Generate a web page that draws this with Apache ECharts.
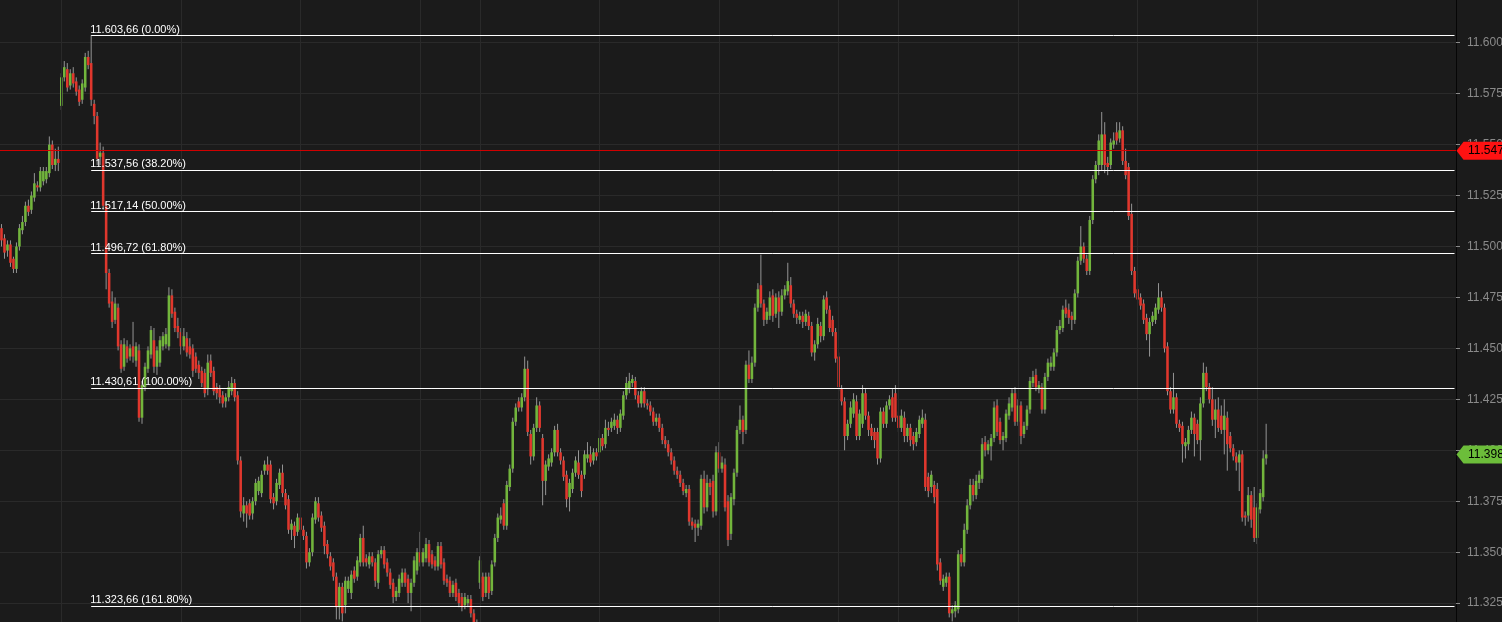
<!DOCTYPE html>
<html>
<head>
<meta charset="utf-8">
<script src="https://cdn.jsdelivr.net/npm/echarts@6/dist/echarts.min.js"></script>
<style>
html,body{margin:0;padding:0;background:#1b1b1b;}
#chart{width:1502px;height:622px;}
</style>
</head>
<body>
<div id="chart"></div>
<script>
// ---- DATA: candles as [open, close, low, high], grouped by trading session ----
const session1 = [
[11.509,11.503,11.500,11.511],[11.504,11.497,11.494,11.506],[11.498,11.501,11.495,11.503],[11.501,11.492,11.490,11.503],
[11.494,11.489,11.487,11.495],[11.489,11.500,11.487,11.502],[11.500,11.509,11.498,11.511],[11.508,11.512,11.506,11.515],
[11.512,11.520,11.510,11.522],[11.520,11.517,11.515,11.523],[11.518,11.525,11.516,11.527],[11.524,11.531,11.522,11.536],
[11.530,11.529,11.527,11.532],[11.529,11.537,11.527,11.539],[11.532,11.537,11.530,11.539],[11.533,11.537,11.531,11.539],
[11.536,11.550,11.534,11.554],[11.550,11.540,11.538,11.552],[11.540,11.543,11.537,11.548],[11.543,11.541,11.537,11.549]
];
const session2 = [
[11.569,11.583,11.567,11.585],[11.583,11.588,11.581,11.591],[11.587,11.578,11.576,11.590],[11.579,11.585,11.577,11.587],
[11.585,11.580,11.578,11.588],[11.581,11.576,11.574,11.583],[11.577,11.571,11.569,11.579],[11.572,11.580,11.570,11.582],
[11.578,11.593,11.576,11.595],[11.593,11.589,11.587,11.596],[11.590,11.572,11.569,11.6037],[11.570,11.564,11.560,11.572],
[11.564,11.543,11.540,11.566],[11.544,11.546,11.540,11.551],[11.546,11.520,11.518,11.549],[11.520,11.487,11.479,11.522],
[11.487,11.472,11.470,11.489],[11.473,11.463,11.460,11.478],[11.464,11.472,11.462,11.475],[11.470,11.451,11.449,11.472],
[11.452,11.440,11.438,11.454],[11.441,11.452,11.439,11.455],[11.451,11.445,11.443,11.454],[11.446,11.450,11.444,11.452],
[11.451,11.446,11.443,11.463],[11.444,11.451,11.441,11.453],[11.449,11.416,11.414,11.452],[11.416,11.432,11.413,11.434],
[11.431,11.441,11.429,11.443],[11.440,11.449,11.438,11.451],[11.447,11.459,11.445,11.461],[11.454,11.441,11.438,11.460],
[11.441,11.449,11.437,11.451],[11.443,11.454,11.441,11.456],[11.451,11.456,11.449,11.458],[11.452,11.457,11.450,11.460],
[11.451,11.476,11.449,11.480],[11.476,11.467,11.465,11.479],[11.468,11.460,11.458,11.470],[11.461,11.458,11.455,11.465],
[11.458,11.451,11.447,11.460],[11.451,11.456,11.449,11.460],[11.455,11.448,11.446,11.458],[11.451,11.447,11.445,11.455],
[11.450,11.439,11.436,11.452],[11.446,11.440,11.438,11.448],[11.442,11.438,11.435,11.444],[11.439,11.433,11.431,11.441],
[11.438,11.428,11.426,11.440],[11.430,11.443,11.427,11.447],[11.444,11.438,11.436,11.447],[11.439,11.429,11.427,11.441],
[11.431,11.428,11.425,11.433],[11.430,11.426,11.423,11.432],[11.427,11.423,11.421,11.429],[11.424,11.426,11.421,11.428],
[11.426,11.431,11.424,11.434],[11.429,11.433,11.427,11.436],[11.433,11.426,11.424,11.435],[11.427,11.395,11.393,11.429],
[11.395,11.370,11.367,11.397],[11.369,11.373,11.365,11.377],[11.373,11.369,11.362,11.375],[11.374,11.368,11.366,11.376],
[11.369,11.375,11.366,11.377],[11.375,11.384,11.373,11.386],[11.380,11.385,11.378,11.387],[11.379,11.388,11.377,11.390],
[11.390,11.393,11.388,11.395],[11.393,11.390,11.388,11.397],[11.393,11.376,11.374,11.395],[11.377,11.374,11.371,11.379],
[11.375,11.384,11.373,11.386],[11.383,11.389,11.381,11.391],[11.389,11.379,11.377,11.393],[11.379,11.373,11.371,11.381],
[11.376,11.361,11.359,11.378],[11.361,11.364,11.356,11.366],[11.363,11.358,11.352,11.365],[11.360,11.367,11.358,11.369],
[11.367,11.361,11.359,11.369],[11.361,11.358,11.356,11.363],[11.358,11.345,11.342,11.360],[11.345,11.350,11.343,11.352],
[11.350,11.367,11.348,11.369],[11.366,11.375,11.364,11.377],[11.374,11.367,11.365,11.377],[11.368,11.362,11.360,11.370],
[11.363,11.353,11.349,11.365],[11.354,11.349,11.347,11.356],[11.348,11.343,11.341,11.350],[11.345,11.338,11.336,11.347],
[11.338,11.323,11.317,11.340],[11.323,11.333,11.317,11.335],[11.333,11.320,11.316,11.335],[11.324,11.336,11.320,11.338],
[11.332,11.336,11.330,11.338],[11.330,11.339,11.327,11.341],[11.341,11.337,11.335,11.343],[11.338,11.346,11.336,11.348],
[11.345,11.357,11.343,11.359],[11.357,11.345,11.343,11.363],[11.347,11.345,11.343,11.349],[11.344,11.348,11.342,11.350],
[11.348,11.345,11.343,11.350],[11.345,11.336,11.333,11.347],[11.335,11.349,11.332,11.351],[11.349,11.351,11.347,11.353],
[11.351,11.344,11.342,11.353],[11.345,11.340,11.338,11.347],[11.340,11.334,11.332,11.342],[11.335,11.328,11.325,11.337],
[11.328,11.331,11.326,11.333],[11.330,11.337,11.328,11.339],[11.335,11.340,11.333,11.342],[11.340,11.335,11.333,11.342],
[11.337,11.330,11.325,11.339],[11.330,11.335,11.321,11.337],[11.335,11.346,11.333,11.348],[11.341,11.350,11.339,11.352],
[11.350,11.345,11.343,11.360],[11.345,11.350,11.343,11.352],[11.347,11.354,11.345,11.357],[11.354,11.345,11.343,11.356],
[11.349,11.344,11.342,11.351],[11.346,11.343,11.341,11.348],[11.343,11.353,11.341,11.355],[11.353,11.344,11.342,11.355],
[11.345,11.336,11.334,11.347],[11.337,11.335,11.333,11.339],[11.336,11.330,11.328,11.338],[11.330,11.334,11.328,11.336],
[11.335,11.328,11.326,11.337],[11.330,11.325,11.323,11.332],[11.328,11.323,11.321,11.330],[11.324,11.328,11.322,11.330],
[11.325,11.327,11.323,11.329],[11.327,11.320,11.318,11.329],[11.320,11.313,11.311,11.322],[11.315,11.312,11.310,11.317]
];
const session3 = [
[11.335,11.346,11.332,11.348],[11.338,11.328,11.326,11.340],[11.330,11.338,11.328,11.340],[11.338,11.330,11.327,11.340],
[11.331,11.344,11.329,11.346],[11.345,11.357,11.343,11.359],[11.357,11.367,11.355,11.369],[11.366,11.368,11.364,11.372],
[11.374,11.363,11.361,11.376],[11.363,11.383,11.361,11.385],[11.382,11.391,11.380,11.393],[11.391,11.414,11.389,11.416],
[11.414,11.421,11.412,11.423],[11.424,11.421,11.419,11.426],[11.421,11.426,11.419,11.428],[11.426,11.440,11.424,11.446],
[11.440,11.409,11.407,11.444],[11.408,11.397,11.393,11.410],[11.397,11.411,11.395,11.413],[11.411,11.422,11.409,11.426],
[11.422,11.411,11.409,11.424],[11.406,11.385,11.373,11.408],[11.385,11.393,11.378,11.395],[11.392,11.396,11.390,11.398],
[11.394,11.399,11.392,11.401],[11.399,11.410,11.397,11.412],[11.410,11.399,11.397,11.413],[11.399,11.395,11.393,11.401],
[11.395,11.387,11.385,11.397],[11.388,11.376,11.372,11.390],[11.377,11.384,11.370,11.386],[11.381,11.389,11.379,11.391],
[11.389,11.395,11.387,11.397],[11.394,11.388,11.386,11.400],[11.388,11.380,11.377,11.390],[11.388,11.398,11.386,11.400],
[11.396,11.398,11.394,11.404],[11.398,11.394,11.392,11.402],[11.395,11.399,11.393,11.401],[11.399,11.397,11.395,11.401],
[11.399,11.406,11.397,11.410],[11.406,11.402,11.400,11.408],[11.403,11.411,11.401,11.415],[11.411,11.410,11.407,11.414],
[11.411,11.414,11.409,11.416],[11.412,11.415,11.410,11.418],[11.415,11.411,11.408,11.417],[11.411,11.418,11.409,11.420],
[11.417,11.427,11.415,11.429],[11.427,11.433,11.425,11.436],[11.430,11.434,11.428,11.438],[11.433,11.435,11.431,11.437],
[11.434,11.427,11.425,11.436],[11.427,11.423,11.421,11.429],[11.423,11.429,11.421,11.431],[11.429,11.423,11.421,11.431],
[11.423,11.422,11.420,11.425],[11.422,11.419,11.417,11.424],[11.419,11.414,11.412,11.421],[11.414,11.416,11.412,11.418],
[11.416,11.411,11.409,11.418],[11.411,11.405,11.403,11.413],[11.405,11.403,11.401,11.407],[11.403,11.399,11.397,11.405],
[11.399,11.395,11.393,11.401],[11.395,11.390,11.388,11.397],[11.390,11.388,11.386,11.392],[11.388,11.384,11.382,11.390],
[11.384,11.380,11.378,11.386],[11.379,11.381,11.377,11.383],[11.381,11.365,11.363,11.383],[11.365,11.363,11.361,11.367],
[11.364,11.362,11.355,11.366],[11.362,11.364,11.358,11.366],[11.363,11.386,11.361,11.388],[11.386,11.372,11.369,11.390],
[11.372,11.384,11.370,11.388],[11.384,11.382,11.378,11.386],[11.385,11.370,11.367,11.388],[11.370,11.399,11.368,11.402],
[11.399,11.391,11.389,11.404],[11.391,11.394,11.389,11.397],[11.393,11.372,11.370,11.396],[11.375,11.356,11.353,11.378],
[11.359,11.377,11.356,11.379],[11.376,11.389,11.373,11.391],[11.389,11.410,11.387,11.412],[11.410,11.415,11.408,11.422],
[11.415,11.409,11.403,11.417],[11.410,11.442,11.408,11.444],[11.442,11.435,11.433,11.449],[11.435,11.443,11.433,11.446],
[11.443,11.470,11.441,11.472],[11.470,11.479,11.468,11.482],[11.481,11.472,11.470,11.496],[11.472,11.464,11.461,11.474],
[11.464,11.468,11.462,11.470],[11.466,11.475,11.464,11.478],[11.476,11.466,11.463,11.479],[11.467,11.475,11.465,11.477],
[11.475,11.468,11.460,11.478],[11.468,11.476,11.466,11.479],[11.476,11.479,11.474,11.481],[11.478,11.483,11.476,11.492],
[11.481,11.472,11.470,11.485],[11.472,11.467,11.465,11.474],[11.467,11.465,11.462,11.469],[11.464,11.466,11.462,11.468],
[11.466,11.463,11.460,11.468],[11.463,11.467,11.461,11.469],[11.466,11.461,11.459,11.468],[11.461,11.448,11.446,11.463],
[11.448,11.452,11.444,11.454],[11.452,11.462,11.450,11.465],[11.461,11.456,11.453,11.463],[11.456,11.474,11.454,11.476],
[11.475,11.469,11.467,11.478],[11.469,11.460,11.458,11.471],[11.464,11.458,11.456,11.466],[11.458,11.445,11.443,11.460],
[11.446,11.431,11.429,11.448],[11.430,11.424,11.422,11.432],[11.424,11.407,11.400,11.426],[11.407,11.413,11.405,11.415],
[11.413,11.421,11.411,11.424],[11.418,11.425,11.416,11.428],[11.424,11.407,11.405,11.427],[11.407,11.418,11.405,11.420],
[11.413,11.428,11.411,11.432],[11.428,11.417,11.415,11.430],[11.417,11.410,11.407,11.419],[11.411,11.407,11.405,11.413],
[11.409,11.405,11.401,11.411],[11.409,11.396,11.393,11.411],[11.396,11.419,11.394,11.421],[11.419,11.413,11.411,11.421],
[11.413,11.422,11.411,11.424],[11.422,11.425,11.420,11.427],[11.426,11.416,11.414,11.430],[11.428,11.416,11.414,11.432]
];
const session4 = [
[11.417,11.411,11.409,11.419],[11.411,11.417,11.409,11.420],[11.416,11.407,11.404,11.419],[11.407,11.411,11.404,11.413],
[11.411,11.405,11.402,11.413],[11.407,11.403,11.400,11.409],[11.404,11.409,11.402,11.411],[11.408,11.415,11.406,11.417],
[11.413,11.416,11.411,11.420],[11.415,11.382,11.380,11.418],[11.387,11.380,11.377,11.389],[11.382,11.388,11.379,11.390],
[11.383,11.377,11.374,11.385],[11.381,11.344,11.341,11.384],[11.345,11.336,11.334,11.347],[11.333,11.337,11.331,11.339],
[11.335,11.338,11.333,11.340],[11.338,11.320,11.318,11.340],[11.320,11.322,11.316,11.324],[11.321,11.324,11.318,11.326],
[11.322,11.349,11.320,11.351],[11.349,11.345,11.343,11.352],[11.345,11.361,11.343,11.364],[11.361,11.373,11.359,11.376],
[11.373,11.383,11.371,11.386],[11.383,11.378,11.375,11.386],[11.378,11.385,11.376,11.388],[11.384,11.388,11.381,11.390],
[11.386,11.403,11.384,11.406],[11.404,11.400,11.397,11.407],[11.400,11.403,11.398,11.405],[11.402,11.406,11.395,11.408],
[11.406,11.421,11.404,11.424],[11.422,11.409,11.407,11.425],[11.414,11.405,11.403,11.416],[11.405,11.407,11.400,11.409],
[11.406,11.418,11.404,11.420],[11.417,11.423,11.415,11.426],[11.421,11.428,11.419,11.430],[11.428,11.414,11.412,11.431],
[11.414,11.422,11.412,11.425],[11.422,11.407,11.403,11.424],[11.408,11.412,11.406,11.414],[11.412,11.420,11.410,11.422],
[11.420,11.434,11.418,11.436],[11.433,11.436,11.431,11.439],[11.437,11.431,11.429,11.440],[11.430,11.432,11.428,11.434],
[11.431,11.420,11.418,11.433],[11.420,11.436,11.418,11.438],[11.436,11.443,11.434,11.445],[11.441,11.443,11.439,11.446],
[11.441,11.448,11.439,11.450],[11.448,11.459,11.446,11.461],[11.459,11.461,11.457,11.464],[11.460,11.469,11.458,11.471],
[11.470,11.467,11.465,11.474],[11.469,11.465,11.462,11.472],[11.466,11.464,11.459,11.468],[11.464,11.477,11.462,11.479],
[11.477,11.493,11.475,11.495],[11.493,11.500,11.491,11.510],[11.500,11.494,11.492,11.502],[11.494,11.488,11.486,11.496],
[11.488,11.513,11.486,11.515],[11.513,11.533,11.511,11.535],[11.533,11.540,11.531,11.542],[11.540,11.552,11.535,11.555],
[11.540,11.555,11.537,11.566],[11.555,11.540,11.536,11.561],[11.541,11.539,11.535,11.544],[11.540,11.551,11.538,11.553],
[11.550,11.552,11.548,11.556],[11.556,11.552,11.550,11.561],[11.553,11.557,11.551,11.561],[11.557,11.542,11.540,11.559],
[11.542,11.535,11.533,11.548],[11.539,11.515,11.513,11.541],[11.516,11.488,11.486,11.521],[11.488,11.477,11.475,11.490],
[11.479,11.474,11.472,11.481],[11.475,11.471,11.469,11.477],[11.472,11.464,11.462,11.474],[11.465,11.457,11.454,11.467],
[11.457,11.463,11.446,11.465],[11.463,11.466,11.461,11.468],[11.464,11.470,11.462,11.472],[11.469,11.475,11.467,11.482],
[11.475,11.470,11.468,11.478],[11.470,11.450,11.448,11.472],[11.451,11.429,11.427,11.453],[11.429,11.420,11.418,11.431],
[11.420,11.426,11.418,11.438],[11.426,11.413,11.411,11.428],[11.413,11.411,11.409,11.415],[11.412,11.403,11.394,11.414],
[11.402,11.404,11.396,11.406],[11.403,11.410,11.400,11.412],[11.410,11.416,11.408,11.419],[11.416,11.408,11.397,11.418],
[11.413,11.405,11.403,11.415],[11.405,11.423,11.395,11.426],[11.423,11.438,11.421,11.443],[11.438,11.431,11.429,11.441],
[11.431,11.425,11.423,11.433],[11.425,11.415,11.412,11.431],[11.415,11.420,11.406,11.425],[11.420,11.411,11.409,11.426],
[11.417,11.410,11.408,11.422],[11.410,11.417,11.398,11.425],[11.416,11.403,11.390,11.419],[11.407,11.401,11.399,11.409],
[11.401,11.397,11.395,11.403],[11.397,11.394,11.390,11.399],[11.394,11.398,11.380,11.400],[11.398,11.367,11.365,11.400],
[11.368,11.367,11.363,11.370],[11.368,11.378,11.365,11.382],[11.378,11.366,11.362,11.380],[11.372,11.357,11.355,11.382],
[11.357,11.372,11.354,11.374],[11.371,11.379,11.369,11.381],[11.377,11.396,11.375,11.400],[11.396,11.398,11.393,11.413]
];

// Fibonacci retracement levels (as labelled on the chart)
const fibValues   = [11.60366, 11.53756, 11.51714, 11.49672, 11.43061, 11.32366];
const fibPercents = ['0.00%', '38.20%', '50.00%', '61.80%', '100.00%', '161.80%'];
const fibStartBar = 30;

// Alert / reference price line
const alertPrice = 11.547;

// Session / time grid marks (bar indices where vertical grid lines sit)
const timeMarks = [20, 60, 100, 140, 160, 200, 240, 280, 300, 340, 380, 420];

// Axis setup
const slotCount = 487;
const yMin = 11.300, yMax = 11.625, yStep = 0.025;

// ---- COLOURS ----
const upColor = '#72b53c';
const downColor = '#e0372d';
const wickColor = '#959595';
const gridColor = '#2a2a2a';
const bgColor = '#1b1b1b';

// ---- BUILD ----
const candles = [].concat(session1, session2, session3, session4);
const rows = candles.map((c, i) => [i, c[0], c[1], c[2], c[3]]);
const categories = Array.from({length: slotCount}, (_, i) => String(i));
const lastBar = slotCount - 1;
const lastClose = candles[candles.length - 1][1];

function fmtFib(v) {
  const s = v.toFixed(5);
  return s.slice(0, 6) + ',' + s.slice(6);
}

function renderCandle(params, api) {
  const i = api.value(0);
  const o = api.value(1), c = api.value(2), l = api.value(3), h = api.value(4);
  const po = api.coord([i, o]), pc = api.coord([i, c]);
  const pl = api.coord([i, l]), ph = api.coord([i, h]);
  const band = api.size([1, 0])[0];
  const w = band * 0.86;
  const x = po[0];
  const top = Math.min(po[1], pc[1]);
  const hgt = Math.max(Math.abs(pc[1] - po[1]), 1.5);
  const up = c >= o;
  return {
    type: 'group',
    children: [
      {type: 'line', shape: {x1: x, y1: ph[1], x2: x, y2: pl[1]}, style: {stroke: wickColor, lineWidth: 1}},
      {type: 'rect', shape: {x: x - w / 2, y: top, width: w, height: hgt}, style: {fill: up ? upColor : downColor}}
    ]
  };
}

const tagSymbol = 'path://M0,9L7,0L50,0L50,18L7,18Z';

const chart = echarts.init(document.getElementById('chart'), null, {renderer: 'canvas'});
chart.setOption({
  animation: false,
  backgroundColor: bgColor,
  grid: {left: 0, right: 46, top: -8.25, bottom: -32.1, containLabel: false, outerBoundsMode: 'none'},
  xAxis: {
    type: 'category', data: categories, boundaryGap: true, show: false
  },
  yAxis: {
    type: 'value', position: 'right', min: yMin, max: yMax, interval: yStep,
    axisLine: {show: true, onZero: false, lineStyle: {color: '#060606', width: 1}},
    axisTick: {show: true, length: 4, lineStyle: {color: '#8a8a8a'}},
    axisLabel: {color: '#8a8a8a', fontSize: 12, margin: 11, fontFamily: 'Liberation Sans, Arial, sans-serif',
      formatter: v => v.toFixed(3)},
    splitLine: {show: true, lineStyle: {color: gridColor, width: 1}}
  },
  series: [
    {
      type: 'line', data: [], z: 1, silent: true, clip: false,
      markLine: {
        symbol: 'none', silent: true, animation: false,
        label: {show: false},
        lineStyle: {color: gridColor, width: 1, type: 'solid'},
        emphasis: {disabled: true},
        data: timeMarks.map(i => ({xAxis: i}))
      }
    },
    {
      type: 'custom', name: 'price', renderItem: renderCandle, data: rows, z: 2, silent: true,
      encode: {x: 0, y: [1, 2, 3, 4]}
    },
    {
      type: 'line', data: [], z: 5, silent: true, clip: false,
      markLine: {
        symbol: 'none', silent: true, animation: false, precision: 5,
        emphasis: {disabled: true},
        lineStyle: {color: '#ffffff', width: 1, type: 'solid'},
        label: {show: true, position: 'insideStartTop', distance: [-1, 0], color: '#ffffff', fontSize: 11,
          fontFamily: 'Liberation Sans, Arial, sans-serif', formatter: '{b}'},
        data: fibValues.map((v, k) => [
          {name: fmtFib(v) + ' (' + fibPercents[k] + ')', coord: [fibStartBar, v]},
          {coord: [lastBar, v]}
        ]).concat([
          {yAxis: alertPrice, lineStyle: {color: '#d00000', width: 1.2, type: 'solid'}, label: {show: false}}
        ])
      },
      markPoint: {
        symbol: tagSymbol, symbolSize: [50, 18], symbolOffset: [27, 0], silent: true, animation: false,
        label: {show: true, position: 'insideLeft', distance: 11.5, color: '#000000', fontSize: 12,
          fontFamily: 'Liberation Sans, Arial, sans-serif'},
        data: [
          {coord: [lastBar, alertPrice], value: alertPrice, itemStyle: {color: '#ff1212'},
            label: {formatter: alertPrice.toFixed(3)}},
          {coord: [lastBar, lastClose], value: lastClose, itemStyle: {color: '#6cbd3a'},
            label: {formatter: lastClose.toFixed(3)}}
        ]
      }
    }
  ]
});
</script>
</body>
</html>
